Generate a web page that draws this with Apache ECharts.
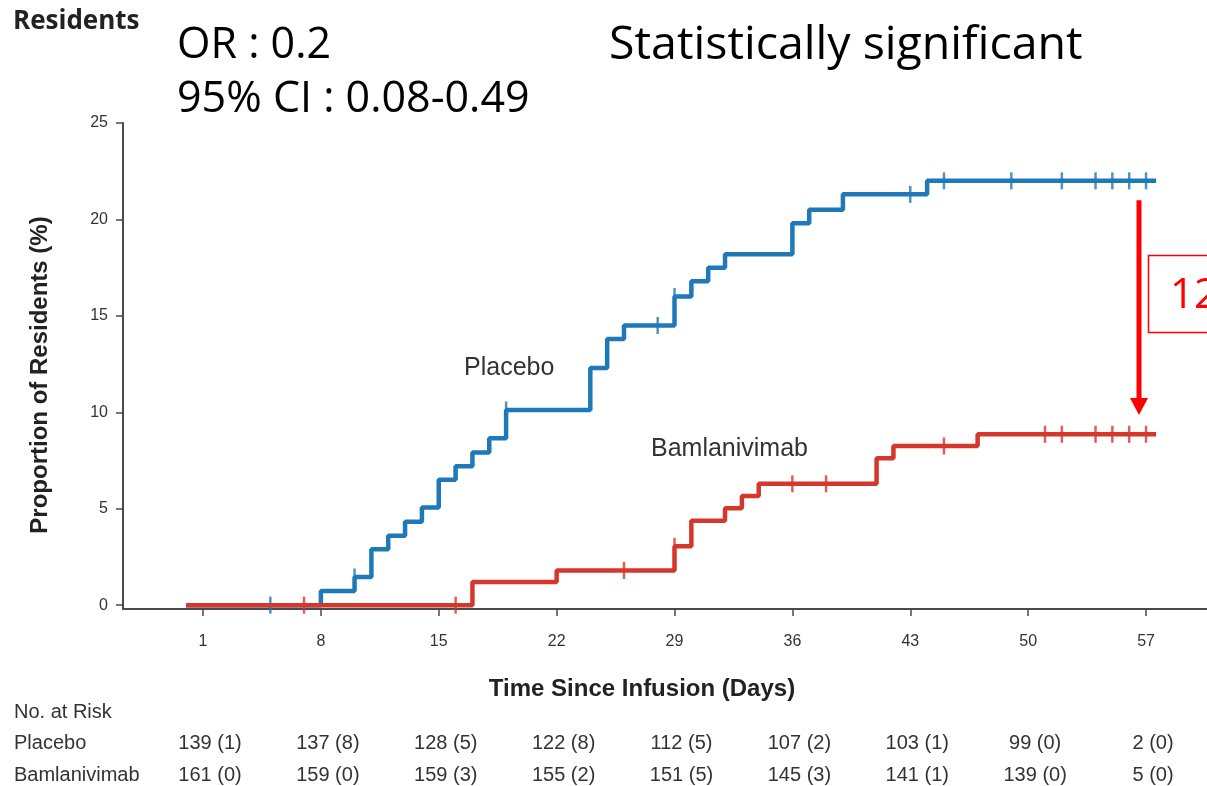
<!DOCTYPE html>
<html>
<head>
<meta charset="utf-8">
<script src="https://cdn.jsdelivr.net/npm/echarts@6/dist/echarts.min.js"></script>
<style>
  html, body { margin: 0; padding: 0; background: #ffffff; }
  #chart { width: 1207px; height: 786px; }
</style>
</head>
<body>
<div id="chart"></div>
<script>
// Time-axis tick labels (days since infusion)
const dayTicks = [1, 8, 15, 22, 29, 36, 43, 50, 57];
// Proportion-axis tick labels (%)
const pctTicks = [0, 5, 10, 15, 20, 25];

// Cumulative proportion (%) — step points [day, value], value holds from that day on
const placeboSteps = [
  [0, 0], [8, 0.73], [10, 1.46], [11, 2.9], [12, 3.6], [13, 4.32], [14, 5.06],
  [15, 6.5], [16, 7.2], [17, 7.92], [18, 8.65], [19, 10.12], [24, 12.3],
  [25, 13.8], [26, 14.5], [29, 16.0], [30, 16.8], [31, 17.5], [32, 18.2],
  [36, 19.8], [37, 20.5], [39, 21.3], [44, 22.0], [57.6, 22.0]
];
const bamlanivimabSteps = [
  [0, 0], [17, 1.2], [22, 1.8], [29, 3.05], [30, 4.37], [32, 5.03], [33, 5.66],
  [34, 6.29], [41, 7.62], [42, 8.25], [47, 8.86], [57.6, 8.86]
];

// Censoring days
const placeboCensored = [5, 10, 19, 28, 29, 43, 45, 49, 52, 54, 55, 56, 57];
const bamlanivimabCensored = [7, 16, 26, 29, 36, 38, 45, 51, 52, 54, 55, 56, 57];

// Number at risk (events) table
const riskDays = [1, 8, 15, 22, 29, 36, 43, 50, 57];
const placeboAtRisk = ['139 (1)', '137 (8)', '128 (5)', '122 (8)', '112 (5)', '107 (2)', '103 (1)', '99 (0)', '2 (0)'];
const bamlanivimabAtRisk = ['161 (0)', '159 (0)', '159 (3)', '155 (2)', '151 (5)', '145 (3)', '141 (1)', '139 (0)', '5 (0)'];

// Annotation text
const orText = 'OR : 0.2';
const ciText = '95% CI : 0.08-0.49';
const sigText = 'Statistically significant';
const diffText = '12';
const annotDay = 56.5;

const BLUE = '#1f78b8';
const RED = '#d5372c';
const AXIS = '#4a4a4a';
const TEXT = '#333333';
const SANS = '"Liberation Sans", Arial, sans-serif';

function levelAt(steps, day) {
  let v = steps[0][1];
  for (const [t, y] of steps) if (t <= day) v = y;
  return v;
}

const chart = echarts.init(document.getElementById('chart'), null, { renderer: 'canvas' });

const option = {
  animation: false,
  backgroundColor: '#ffffff',
  grid: { left: 123, right: 0, top: 123, bottom: 177 },
  xAxis: {
    type: 'value',
    min: -3.75,
    max: 60.62,
    splitLine: { show: false },
    axisLine: { onZero: false, lineStyle: { color: AXIS, width: 2 } },
    axisTick: { show: true, length: 7, customValues: dayTicks, lineStyle: { color: AXIS, width: 1.5 } },
    axisLabel: {
      customValues: dayTicks, margin: 25,
      color: TEXT, fontSize: 16, fontFamily: SANS
    }
  },
  yAxis: {
    type: 'value',
    min: -0.2, max: 25,
    splitLine: { show: false },
    axisLine: { show: true, onZero: false, lineStyle: { color: AXIS, width: 2 } },
    axisTick: { show: true, length: 7, customValues: pctTicks, lineStyle: { color: AXIS, width: 1.5 } },
    axisLabel: { customValues: pctTicks, margin: 15, color: TEXT, fontSize: 16, fontFamily: SANS }
  },
  series: [
    {
      name: 'Placebo', type: 'line', step: 'end', data: placeboSteps,
      showSymbol: false, z: 2,
      lineStyle: { color: BLUE, width: 4.5 }
    },
    {
      name: 'Placebo censored', type: 'scatter', z: 2,
      data: placeboCensored.map(d => [d, levelAt(placeboSteps, d)]),
      symbol: 'rect', symbolSize: [2.5, 17],
      itemStyle: { color: BLUE }
    },
    {
      name: 'Bamlanivimab', type: 'line', step: 'end', data: bamlanivimabSteps,
      showSymbol: false, z: 3,
      lineStyle: { color: RED, width: 4.5 }
    },
    {
      name: 'Bamlanivimab censored', type: 'scatter', z: 3,
      data: bamlanivimabCensored.map(d => [d, levelAt(bamlanivimabSteps, d)]),
      symbol: 'rect', symbolSize: [2.5, 17],
      itemStyle: { color: RED }
    }
  ]
};
chart.setOption(option);

// Overlay text and annotations, positioned with the chart's own coordinate conversion
function px(day, val) { return chart.convertToPixel({ gridIndex: 0 }, [day, val]); }

function txt(x, y, text, font, fill, align, vAlign, extra) {
  return Object.assign({
    type: 'text', x: x, y: y, silent: true,
    style: { text: text, font: font, fill: fill, textAlign: align, textVerticalAlign: vAlign, align: align, verticalAlign: vAlign }
  }, extra || {});
}

const tableFont = '20px ' + SANS;
const graphics = [];

graphics.push(txt(13, 22, 'Residents', 'bold 26px "Open Sans", sans-serif', '#222', 'left', 'middle'));
graphics.push(txt(177, 46, orText, '43px "Open Sans", sans-serif', '#000', 'left', 'middle'));
graphics.push(txt(177, 100, ciText, '43px "Open Sans", sans-serif', '#000', 'left', 'middle'));
graphics.push(txt(609, 46, sigText, '46.5px "Open Sans", sans-serif', '#000', 'left', 'middle'));

// Axis titles
graphics.push(txt(40, 375, 'Proportion of Residents (%)', 'bold 24px ' + SANS, '#222', 'center', 'middle', { rotation: Math.PI / 2 }));
graphics.push(txt(642, 689, 'Time Since Infusion (Days)', 'bold 24px ' + SANS, '#222', 'center', 'middle'));

// Curve labels
graphics.push(txt(464, 368, 'Placebo', '25px ' + SANS, TEXT, 'left', 'middle'));
graphics.push(txt(651, 449, 'Bamlanivimab', '25px ' + SANS, TEXT, 'left', 'middle'));

// Number-at-risk table
graphics.push(txt(14, 712, 'No. at Risk', tableFont, TEXT, 'left', 'middle'));
graphics.push(txt(14, 743, 'Placebo', tableFont, TEXT, 'left', 'middle'));
graphics.push(txt(14, 775, 'Bamlanivimab', tableFont, TEXT, 'left', 'middle'));
riskDays.forEach((d, i) => {
  const cx = px(d, 0)[0] + 7;
  graphics.push(txt(cx, 743, placeboAtRisk[i], tableFont, TEXT, 'center', 'middle'));
  graphics.push(txt(cx, 775, bamlanivimabAtRisk[i], tableFont, TEXT, 'center', 'middle'));
});

// Difference arrow between the two curves at the end of follow-up
const topPt = px(annotDay, levelAt(placeboSteps, annotDay) - 1.0);
const tipPt = px(annotDay, levelAt(bamlanivimabSteps, annotDay) + 1.0);
const ax = Math.round(topPt[0]) + 1;
graphics.push({
  type: 'line', silent: true,
  shape: { x1: ax, y1: topPt[1], x2: ax, y2: tipPt[1] - 14 },
  style: { stroke: '#ff0000', lineWidth: 5 }
});
graphics.push({
  type: 'polygon', silent: true,
  shape: { points: [[ax - 9, tipPt[1] - 17], [ax + 9, tipPt[1] - 17], [ax, tipPt[1]]] },
  style: { fill: '#ff0000' }
});
graphics.push({
  type: 'rect', silent: true,
  shape: { x: ax + 9.5, y: 255.5, width: 120, height: 77 },
  style: { fill: '#ffffff', stroke: '#ff0000', lineWidth: 1.5 }
});
graphics.push(txt(ax + 31, 296, diffText, '42px "Open Sans", sans-serif', '#ff0000', 'left', 'middle'));

chart.setOption({ graphic: { elements: graphics } });
</script>
</body>
</html>
